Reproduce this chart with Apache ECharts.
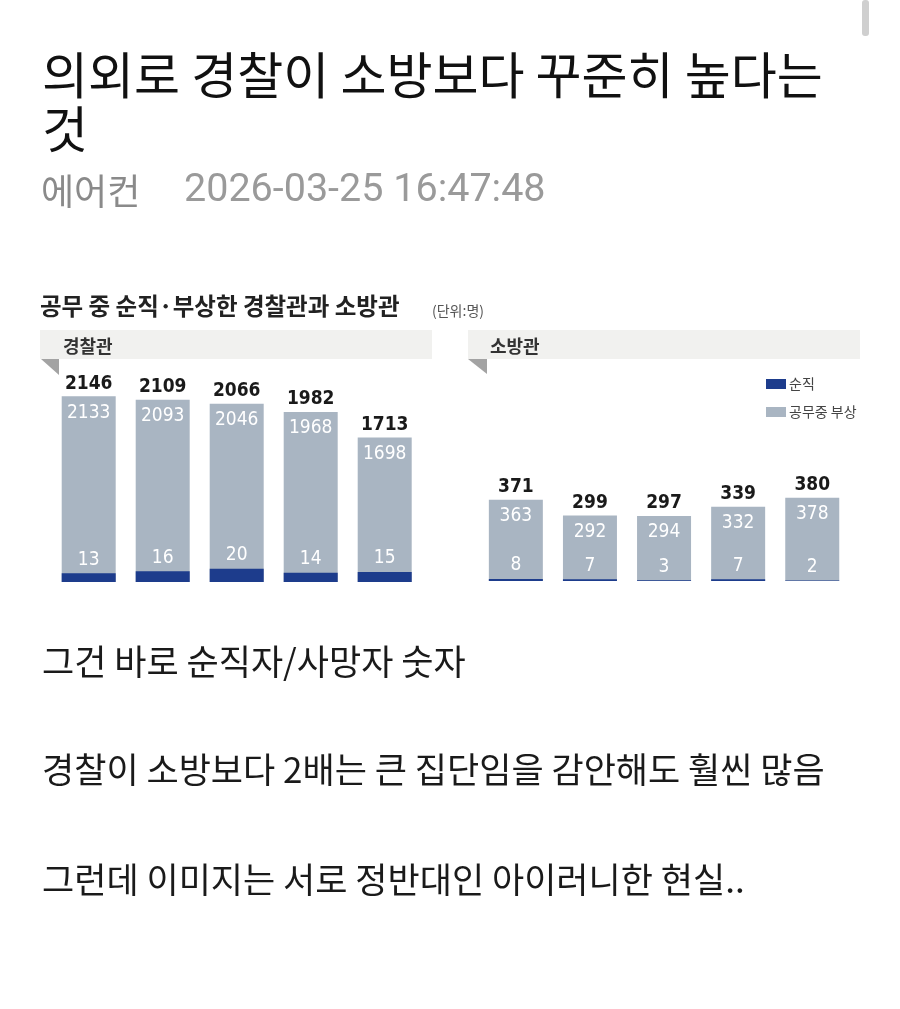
<!DOCTYPE html>
<html><head><meta charset="utf-8">
<script src="https://cdn.jsdelivr.net/npm/echarts@6/dist/echarts.min.js"></script>
<style>html,body{margin:0;padding:0;background:#fff}#c{width:900px;height:1009px}</style>
</head><body><div id="c"></div>
<script>
// ---- data ----
const categories = ['1', '2', '3', '4', '5'];
const policeTotal   = [2146, 2109, 2066, 1982, 1713];
const policeInjured = [2133, 2093, 2046, 1968, 1698];
const policeDeath   = [13, 16, 20, 14, 15];
const fireTotal   = [371, 299, 297, 339, 380];
const fireInjured = [363, 292, 294, 332, 378];
const fireDeath   = [8, 7, 3, 7, 2];

const GRAY = '#a9b5c2';
const BLUE = '#1d3c8c';
const NUMFONT = "'Liberation Sans Narrow', 'DejaVu Sans Condensed', 'Roboto Condensed', Roboto, sans-serif";
const KR = "'Noto Sans CJK KR', 'Noto Sans', sans-serif";

const chart = echarts.init(document.getElementById('c'));

function hiddenCat(gi) {
  return { type: 'category', gridIndex: gi, data: categories, show: false };
}
function hiddenVal(gi, min, max) {
  return { type: 'value', gridIndex: gi, min: min, max: max, show: false, splitLine: { show: false } };
}
function group(xi, yGray, yBlue, total, injured, death) {
  const common = { type: 'bar', xAxisIndex: xi, barWidth: 54, barGap: '-100%', silent: true, emphasis: { disabled: true } };
  return [
    Object.assign({}, common, {
      name: '공무중 부상', yAxisIndex: yGray, data: total,
      itemStyle: { color: GRAY },
      label: { show: true, position: 'top', distance: 3, color: '#1a1a1a', fontFamily: NUMFONT, fontWeight: 'bold', fontSize: 19,
        formatter: p => String(total[p.dataIndex]) }
    }),
    Object.assign({}, common, {
      name: 'injuredLabel', yAxisIndex: yGray, data: total,
      itemStyle: { color: 'rgba(0,0,0,0)' },
      label: { show: true, position: 'insideTop', distance: 7, color: '#ffffff', fontFamily: NUMFONT, fontSize: 19,
        formatter: p => String(injured[p.dataIndex]) }
    }),
    Object.assign({}, common, {
      name: '순직', yAxisIndex: yBlue, data: death,
      itemStyle: { color: BLUE },
      label: { show: true, position: 'top', distance: 4, color: '#ffffff', fontFamily: NUMFONT, fontSize: 19 }
    })
  ];
}

const texts = [
  { t: '의외로 경찰이 소방보다 꾸준히 높다는', x: 42, y: 75, s: 50, c: '#111111' },
  { t: '것', x: 42, y: 129, s: 50, c: '#111111' },
  { t: '에어컨', x: 41, y: 191, s: 36, c: '#8a8a8a' },
  { t: '2026-03-25 16:47:48', x: 184, y: 191, s: 39.5, c: '#9a9a9a', f: "Roboto, 'Noto Sans', sans-serif" },
  { t: '그건 바로 순직자/사망자 숫자', x: 42, y: 662, s: 35, c: '#1a1a1a' },
  { t: '경찰이 소방보다 2배는 큰 집단임을 감안해도 훨씬 많음', x: 42, y: 770, s: 35, c: '#1a1a1a' },
  { t: '그런데 이미지는 서로 정반대인 아이러니한 현실..', x: 42, y: 880, s: 35, c: '#1a1a1a' },
  { t: '공무 중 순직·부상한 경찰관과 소방관', x: 40, y: 306, s: 23.5, c: '#222222', w: 'bold' },
  { t: '(단위:명)', x: 432, y: 311, s: 14, c: '#555555' },
  { t: '경찰관', x: 63, y: 346, s: 18, c: '#333333', w: 'bold' },
  { t: '소방관', x: 490, y: 346, s: 18, c: '#333333', w: 'bold' }
];

const graphic = [
  { type: 'rect', shape: { x: 862, y: 0, width: 7, height: 36, r: 3 }, style: { fill: '#cfcfcf' } },
  { type: 'rect', shape: { x: 40, y: 330, width: 392, height: 29 }, style: { fill: '#f1f1ef' } },
  { type: 'rect', shape: { x: 468, y: 330, width: 392, height: 29 }, style: { fill: '#f1f1ef' } },
  { type: 'polygon', shape: { points: [[41, 359], [59, 359], [59, 375]] }, style: { fill: '#a3a3a3' } },
  { type: 'polygon', shape: { points: [[468, 359], [487, 359], [487, 374]] }, style: { fill: '#a3a3a3' } }
].concat(texts.map(o => ({
  type: 'text',
  style: { text: o.t, x: o.x, y: o.y, fontSize: o.s, fontFamily: o.f || KR, fontWeight: o.w || 'normal',
    fill: o.c, verticalAlign: 'middle', textAlign: 'left' }
})));

chart.setOption({
  animation: false,
  backgroundColor: '#ffffff',
  grid: [
    { left: 51.7, width: 370, top: 382, height: 200 },
    { left: 478.8, width: 370.5, top: 481, height: 100 }
  ],
  xAxis: [hiddenCat(0), hiddenCat(1)],
  yAxis: [hiddenVal(0, 200, 2295), hiddenVal(0, 0, 300), hiddenVal(1, 0, 457), hiddenVal(1, 0, 400)],
  legend: {
    data: ['순직', '공무중 부상'], orient: 'vertical', left: 761, top: 372,
    icon: 'rect', itemWidth: 20, itemHeight: 10, itemGap: 14, selectedMode: false,
    textStyle: { fontFamily: KR, fontSize: 14, color: '#444444', padding: [0, 0, 0, -2] }
  },
  series: group(0, 0, 1, policeTotal, policeInjured, policeDeath)
    .concat(group(1, 2, 3, fireTotal, fireInjured, fireDeath)),
  graphic: graphic
});
</script></body></html>
